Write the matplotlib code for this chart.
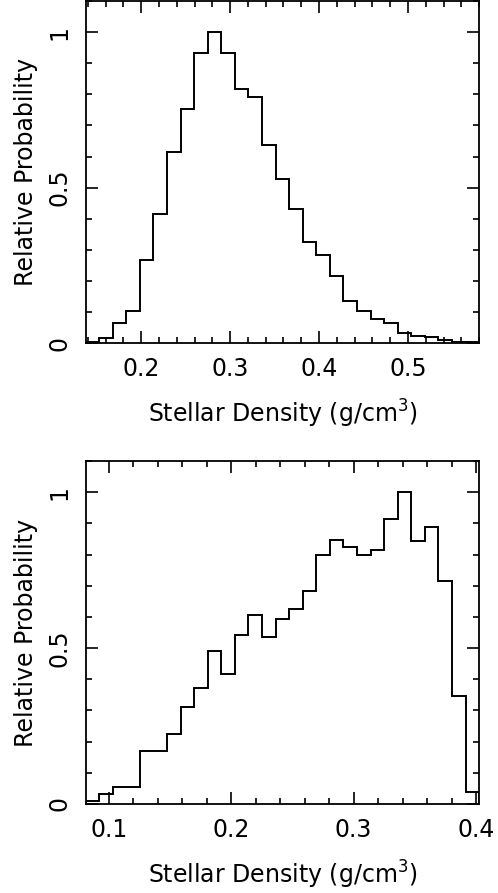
import matplotlib
matplotlib.use("Agg")
import matplotlib.pyplot as plt
import numpy as np
from matplotlib.ticker import MultipleLocator, FixedLocator, FixedFormatter

# top panel: 29 equal bins spanning the x range
top_range = (0.1375, 0.58)
top_heights = [0.003, 0.016, 0.064, 0.104, 0.268, 0.414, 0.614, 0.753, 0.932, 1.0,
               0.934, 0.817, 0.790, 0.637, 0.528, 0.432, 0.326, 0.283, 0.216, 0.137,
               0.105, 0.079, 0.064, 0.034, 0.023, 0.019, 0.009, 0.005, 0.003]

# bottom panel
bot_range = (0.081, 0.4025)
bot_heights = [0.009, 0.033, 0.054, 0.053, 0.169, 0.171, 0.225, 0.310, 0.372, 0.489,
               0.418, 0.541, 0.607, 0.535, 0.593, 0.626, 0.682, 0.799, 0.847, 0.823,
               0.799, 0.815, 0.913, 1.0, 0.844, 0.888, 0.714, 0.345, 0.038]

top_xticks = [0.2, 0.3, 0.4, 0.5]
bot_xticks = [0.1, 0.2, 0.3, 0.4]
yticks = [0, 0.5, 1]
ytick_labels = ["0", "0.5", "1"]

xlabel = r"Stellar Density (g/cm$^3$)"
ylabel = "Relative Probability"

plt.rcParams["font.family"] = ["DejaVu Sans"]
plt.rcParams["mathtext.fontset"] = "dejavusans"

FS = 17

fig = plt.figure(figsize=(4.98, 8.93), dpi=100)
ax_top = fig.add_axes([0.172, 0.6156, 0.790, 0.3833])
ax_bot = fig.add_axes([0.172, 0.0997, 0.790, 0.3841])


def draw_panel(ax, heights, xrange, xticks):
    edges = np.linspace(xrange[0], xrange[1], len(heights) + 1)
    ax.stairs(heights, edges, color="black", linewidth=1.4, baseline=0)
    ax.set_xlim(*xrange)
    ax.set_ylim(0, 1.1)

    ax.xaxis.set_major_locator(FixedLocator(xticks))
    ax.xaxis.set_major_formatter(FixedFormatter([f"{t:.1f}" for t in xticks]))
    ax.xaxis.set_minor_locator(MultipleLocator(0.02))
    ax.yaxis.set_major_locator(FixedLocator(yticks))
    ax.yaxis.set_major_formatter(FixedFormatter(ytick_labels))
    ax.yaxis.set_minor_locator(MultipleLocator(0.1))

    ax.tick_params(which="both", direction="in", top=True, right=True,
                   width=1.2, labelsize=FS, color="black")
    ax.tick_params(which="major", length=8.5, pad=10)
    ax.tick_params(which="minor", length=4.2)
    plt.setp(ax.get_yticklabels(), rotation=90, va="center")

    for s in ax.spines.values():
        s.set_linewidth(1.3)

    ax.set_xlabel(xlabel, fontsize=FS, labelpad=12)
    ax.set_ylabel(ylabel, fontsize=FS, labelpad=7)


draw_panel(ax_top, top_heights, top_range, top_xticks)
draw_panel(ax_bot, bot_heights, bot_range, bot_xticks)

fig.savefig("out.png", dpi=100)
